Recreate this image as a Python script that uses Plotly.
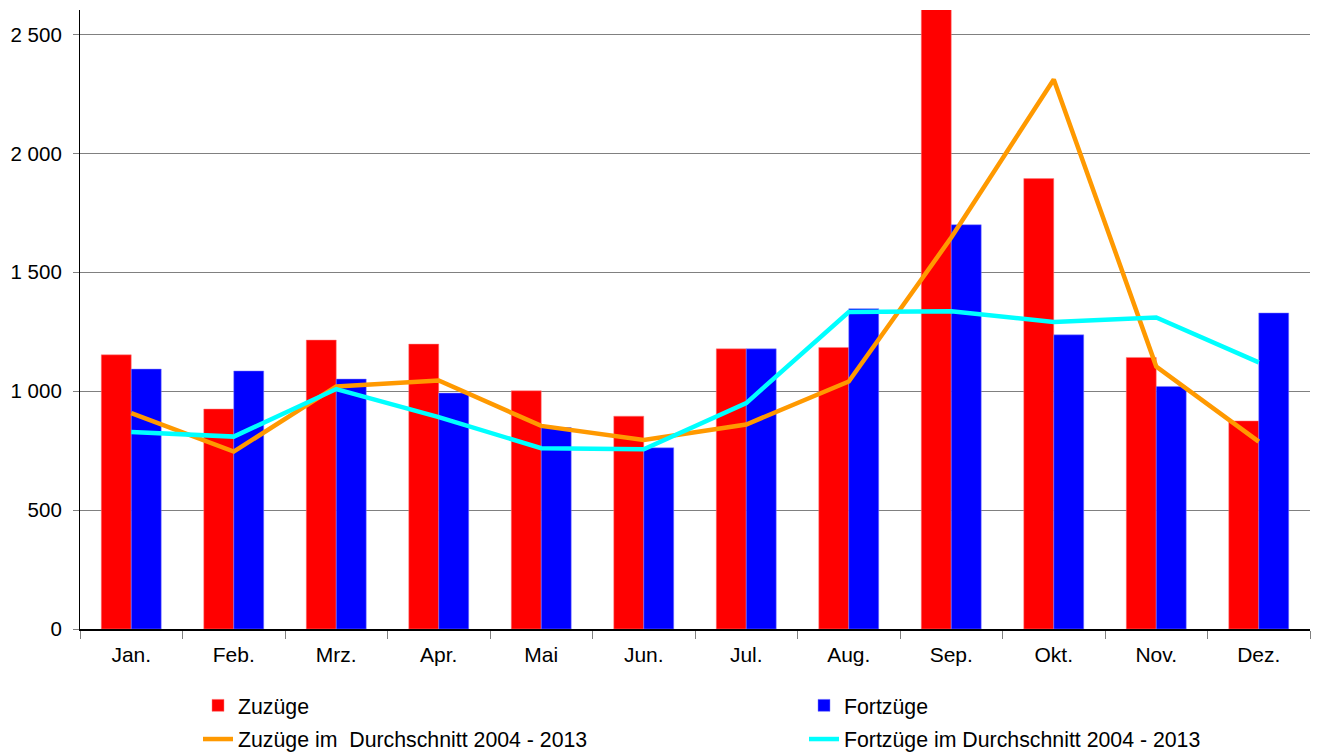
import plotly.graph_objects as go

months = ["Jan.", "Feb.", "Mrz.", "Apr.", "Mai", "Jun.", "Jul.", "Aug.", "Sep.", "Okt.", "Nov.", "Dez."]
zuzuege = [1153, 925, 1215, 1198, 1002, 895, 1178, 1184, 2650, 1894, 1142, 875]
fortzuege = [1093, 1085, 1051, 992, 847, 762, 1178, 1347, 1700, 1237, 1020, 1329]
zuzuege_avg = [908, 746, 1020, 1045, 854, 795, 860, 1041, 1646, 2311, 1104, 788]
fortzuege_avg = [828, 809, 1009, 891, 760, 756, 950, 1333, 1336, 1291, 1310, 1121]

names = ["Zuzüge", "Fortzüge", "Zuzüge im  Durchschnitt 2004 - 2013", "Fortzüge im Durchschnitt 2004 - 2013"]

FONT = "Liberation Sans, Arial, sans-serif"
W, H = 1311, 744  # page body has an 8px margin

fig = go.Figure()
fig.add_trace(go.Bar(x=months, y=zuzuege, name=names[0], marker=dict(color="#FF0000", line=dict(color="#FF8080", width=0.5)),
                     legend="legend", legendgroup="a"))
fig.add_trace(go.Bar(x=months, y=fortzuege, name=names[1], marker=dict(color="#0000FF", line=dict(color="#8080FF", width=0.5)),
                     legend="legend2", legendgroup="c"))
fig.add_trace(go.Scatter(x=months, y=zuzuege_avg, name=names[2], mode="lines", line=dict(color="#FF9900", width=4.5),
                         legend="legend", legendgroup="b"))
fig.add_trace(go.Scatter(x=months, y=fortzuege_avg, name=names[3], mode="lines", line=dict(color="#00FFFF", width=4.5),
                         legend="legend2", legendgroup="d"))

legend_common = dict(orientation="v", yanchor="top", xanchor="left", xref="container", yref="container",
                     font=dict(family=FONT, size=21.3, color="black"),
                     bgcolor="rgba(0,0,0,0)", traceorder="grouped", tracegroupgap=3, itemwidth=30)

fig.update_layout(
    width=W, height=H,
    margin=dict(l=72, r=9, t=2, b=123, autoexpand=False),
    paper_bgcolor="white", plot_bgcolor="white",
    barmode="group", bargap=0.415, bargroupgap=0,
    separators=", ",
    font=dict(family=FONT, size=21, color="black"),
    xaxis=dict(showline=True, linecolor="black", linewidth=1.5, ticks="outside", tickson="boundaries",
               ticklen=8, tickcolor="#808080", tickfont=dict(size=21), showgrid=False, automargin=False,
               ticklabelstandoff=6),
    yaxis=dict(range=[0, 2603], tickvals=[0, 500, 1000, 1500, 2000, 2500], tickformat=",d", separatethousands=True,
               showline=True, linecolor="black", linewidth=1.2, ticks="outside", ticklen=6, tickcolor="#808080",
               showgrid=True, gridcolor="#808080", gridwidth=1, zeroline=False, tickfont=dict(size=20.5),
               ticklabelstandoff=7, automargin=False),
    legend=dict(x=190 / W, y=(H - 677) / H, **legend_common),
    legend2=dict(x=796 / W, y=(H - 677) / H, **legend_common),
)

fig.write_html("out.html")
